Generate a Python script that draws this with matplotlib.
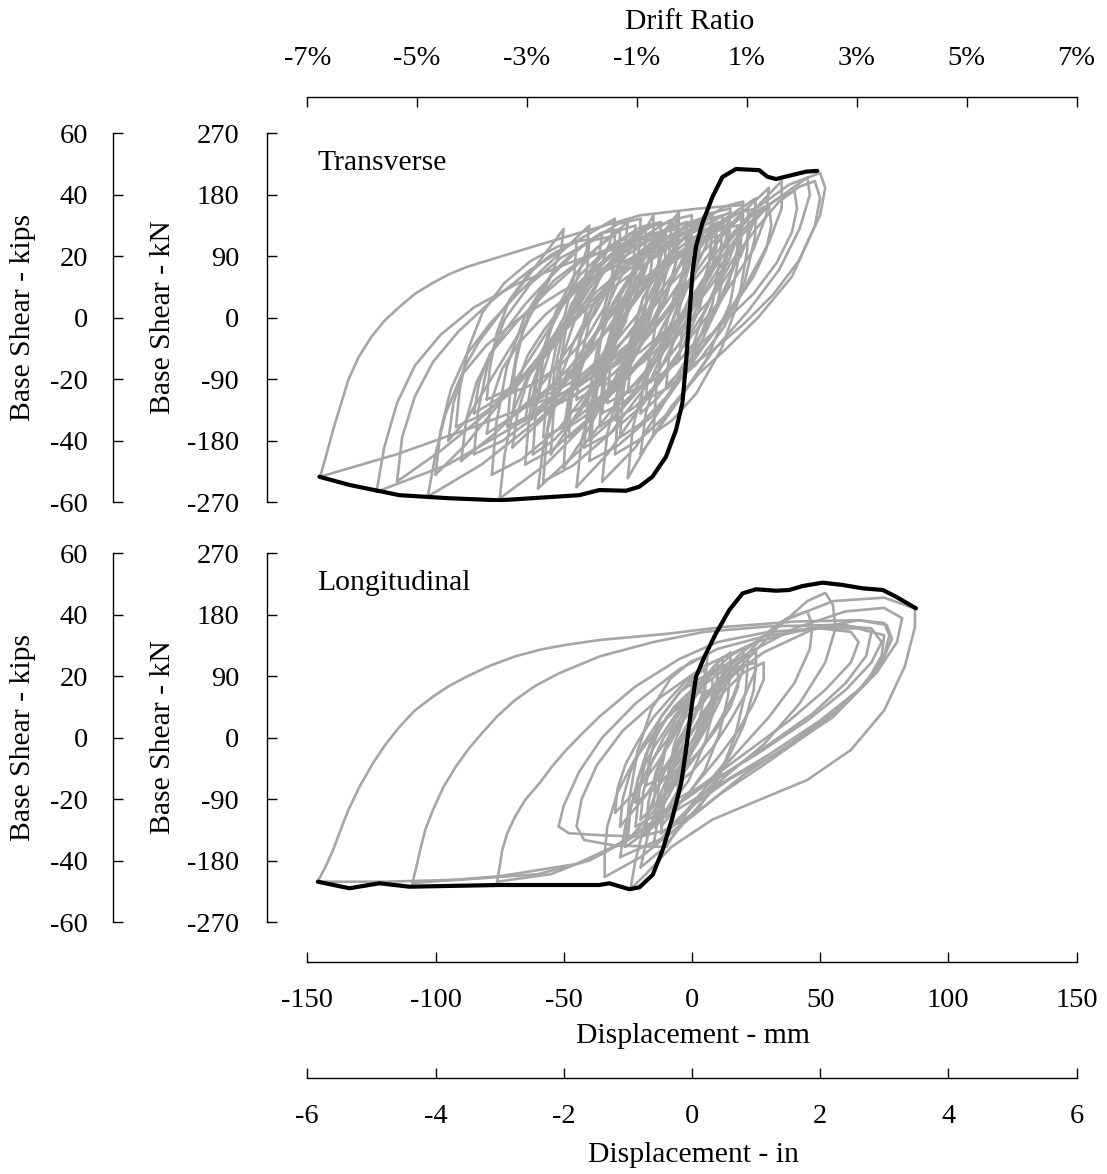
import matplotlib
matplotlib.use('Agg')
import matplotlib.pyplot as plt

plt.rcParams['font.family'] = ['Liberation Serif', 'DejaVu Serif']
plt.rcParams['axes.unicode_minus'] = False

# ---------------- axis data ----------------
kn_ticks = [-270, -180, -90, 0, 90, 180, 270]
kn_labels = ['-270', '-180', '-90', '0', '90', '180', '270']
kip_ticks = [-60, -40, -20, 0, 20, 40, 60]
kip_labels = ['-60', '-40', '-20', '0', '20', '40', '60']
mm_ticks = [-150, -100, -50, 0, 50, 100, 150]
mm_labels = ['-150', '-100', '-50', '0', '50', '100', '150']
in_ticks = [-6, -4, -2, 0, 2, 4, 6]
in_labels = ['-6', '-4', '-2', '0', '2', '4', '6']
drift_ticks = [-7, -5, -3, -1, 1, 3, 5, 7]
drift_labels = ['-7%', '-5%', '-3%', '-1%', '1%', '3%', '5%', '7%']

# ---------------- Transverse: backbone (black) ----------------
trans_env_x = [-145.3, -133.6, -114.1, -94.6, -75.1, -43.9, -36.1, -25.7, -20.5, -15.4, -10.1,
               -6.2, -3.7, -2.3, -1.0, 0.2, 1.6, 4.1, 8.0, 11.9, 17.2, 26.3, 29.4, 32.8, 39.2,
               44.5, 48.9]
trans_env_y = [-233, -245, -260, -264.5, -267.5, -260, -252.5, -253.5, -247.6, -233, -203.7,
               -164.5, -125, -66.4, 1, 65.4, 104, 138.6, 176.7, 206, 217.7, 216, 206.4, 203, 209,
               213.8, 215]

# ---------------- Transverse: hysteresis loops (grey) ----------------
trans_loop_x = [
    [-145, -142.5, -140, -137, -134, -130, -125, -120, -114, -108, -101, -95, -88, -75, -62, -44, -20, 3, 20, 19, 14, 2, -20, -50, -85, -115, -145],
    [-123, -120, -115, -108, -98, -85, -68, -48, -25, -5, 8, 6, 0, -12, -35, -65, -95, -123],
    [-103, -100, -96, -90, -80, -67, -50, -30, -12, 0, -2, -8, -20, -40, -60, -82, -103],
    [-75, -73, -70, -64, -55, -42, -27, -10, 5, 15, 13, 7, -5, -22, -40, -57, -75],
    [-60, -58, -54, -48, -38, -25, -10, 5, 17, 25, 24, 19, 8, -10, -28, -44, -60],
    [-45, -43, -39, -32, -22, -8, 8, 20, 30, 29, 24, 12, -5, -20, -33, -45],
    [-35, -33, -29, -22, -12, 2, 15, 26, 35, 35, 30, 20, 5, -10, -22, -35],
    [-25, -23, -18, -10, 0, 12, 25, 38, 50, 52, 50, 45, 39, 26, 13, 3, -8, -18, -25],
    [-20, -18, -13, -5, 5, 17, 30, 45, 46, 42, 34, 22, 8, -5, -20],
    [-80, -78, -74, -67, -57, -44, -30, -18, -10, -11, -15, -25, -40, -55, -68, -80],
    [-70, -68, -64, -58, -48, -35, -22, -12, -5, -6, -10, -20, -33, -48, -60, -70],
    [-65, -63, -59, -52, -42, -30, -18, -7, 0, -1, -5, -14, -27, -42, -55, -65],
    [-55, -54, -51, -46, -39, -31, -24, -18, -15, -15, -18, -24, -32, -40, -48, -55],
    [-50, -48, -44, -38, -28, -16, -4, 5, 10, 9, 5, -3, -15, -28, -40, -50],
    [-90, -88, -84, -78, -68, -56, -44, -33, -25, -26, -30, -38, -50, -63, -77, -90],
    [-40, -39, -36, -31, -24, -15, -6, 1, 5, 4, 1, -5, -13, -22, -31, -40],
    [-85, -83, -79, -73, -65, -55, -46, -39, -35, -36, -40, -47, -57, -67, -76, -85],
    [-30, -29, -26, -21, -14, -5, 4, 11, 15, 14, 11, 5, -4, -13, -22, -30],
    [-60, -58, -55, -50, -43, -35, -28, -23, -20, -21, -24, -30, -38, -47, -54, -60],
    [-100, -98, -94, -88, -79, -68, -57, -47, -40, -41, -45, -53, -64, -76, -88, -100],
    [-115, -113, -108, -101, -91, -78, -63, -46, -30, -32, -37, -47, -62, -80, -98, -115],
    [-45, -44, -41, -36, -29, -20, -10, -4, 0, -1, -4, -11, -20, -30, -38, -45],
    [-35, -34, -31, -26, -19, -10, 0, 6, 10, 9, 6, 0, -9, -19, -28, -35],
    [-20, -19, -16, -11, -4, 4, 12, 17, 20, 19, 16, 10, 2, -6, -14, -20],
    [-70, -68, -64, -58, -50, -40, -30, -21, -15, -16, -20, -28, -39, -50, -61, -70],
    [-50, -49, -46, -41, -34, -25, -16, -9, -5, -6, -9, -16, -25, -34, -43, -50],
    [-95, -93, -89, -83, -75, -66, -58, -53, -50, -51, -55, -62, -71, -80, -88, -95],
    [-10, -9, -6, -1, 6, 14, 22, 27, 30, 31, 29, 24, 16, 7, -2, -10],
    [-5, -4, -1, 4, 11, 19, 28, 35, 40, 41, 39, 33, 24, 13, 3, -5],
    [0, 1, 4, 9, 16, 25, 34, 42, 48, 50, 48, 42, 32, 20, 9, 0],
    [-58, -56.5, -53, -47, -38, -27, -15.5, -8, -9, -13, -22, -35.5, -48, -58],
    [-48, -46.6, -43.4, -37.9, -29.6, -19.5, -8.9, -2, -3, -6.6, -14.9, -27.3, -38.8, -48],
    [-42, -40.5, -37, -31, -22, -11, 0.5, 8, 7, 3, -6, -19.5, -32, -42],
    [-38, -37.2, -35.4, -32.3, -27.6, -21.9, -15.9, -12, -12.5, -14.6, -19.3, -26.3, -32.8, -38],
    [-52, -51, -48.6, -44.5, -38.4, -30.9, -23.1, -18, -18.5, -21.4, -27.5, -36.7, -45.2, -52],
    [-28, -26.8, -24, -19.2, -12, -3.2, 6, 12, 11.2, 8, 0.8, -10, -20, -28],
    [-33, -31.9, -29.4, -25.1, -18.6, -10.7, -2.4, 3, 2.6, -0.6, -7.1, -16.8, -25.8, -33],
    [-62, -60.8, -58, -53.2, -46, -37.2, -28, -22, -22.8, -26, -33.2, -44, -54, -62],
    [-25, -23.7, -20.7, -15.5, -7.8, 1.7, 11.6, 18, 17.6, 13.7, 5.6, -5.7, -16.4, -25],
    [-15, -13.9, -11.3, -6.9, -0.2, 7.9, 16.5, 22, 21.6, 18.3, 11.6, 1.7, -7.6, -15],
    [-72, -70.7, -67.6, -62.3, -54.4, -44.7, -34.6, -28, -28.4, -32.4, -40.3, -52.2, -63.2, -72],
    [-44, -42.9, -40.2, -35.6, -28.8, -20.4, -11.7, -6, -6.4, -9.8, -16.6, -26.9, -36.4, -44],
    [-18, -16.7, -13.7, -8.5, -0.8, 8.7, 18.6, 25, 24.6, 20.7, 12.6, 1.4, -9.4, -18],
    [-36, -35, -32.6, -28.5, -22.4, -14.9, -7.1, -2, -2.3, -5.4, -11.5, -20.7, -29.2, -36],
    [-55, -53.7, -50.5, -45.1, -37, -27.1, -16.8, -10, -10.5, -14.5, -22.6, -34.8, -46, -55],
    [-85, -83.35, -79.5, -72.9, -63, -50.9, -38.25, -30, -31.1, -35.5, -45.4, -60.25, -74, -85],
    [-78, -76.3, -72.2, -65.2, -54.8, -42, -28.7, -20, -21.2, -25.8, -36.2, -51.9, -66.4, -78],
    [-65, -63.4, -59.7, -53.3, -43.8, -32.1, -19.95, -12, -13.1, -17.3, -26.8, -41.2, -54.4, -65],
    [-92, -90.6, -87.3, -81.7, -73.2, -62.9, -52, -45, -45.9, -49.7, -58.2, -70.9, -82.6, -92],
    [-58, -56.3, -52.2, -45.2, -34.8, -22, -8.7, 0, -1.2, -5.8, -16.2, -31.9, -46.4, -58],
    [-40, -38.35, -34.5, -27.9, -18, -5.9, 6.75, 15, 13.9, 9.5, -0.4, -15.25, -29, -40],
    [-30, -28.5, -25, -19, -10, 1, 12.5, 20, 19, 15, 6, -7.5, -20, -30],
    [-70, -68.8, -66, -61.2, -54, -45.2, -36, -30, -30.8, -34, -41.2, -52, -62, -70],
    [-48, -47, -44.7, -40.7, -34.8, -27.5, -19.95, -15, -15.7, -18.3, -24.2, -33.2, -41.4, -48],
    [-62, -60.3, -56.3, -49.5, -39.2, -26.7, -13.55, -5, -6.1, -10.7, -21, -36.35, -50.6, -62],
    [-35, -33.7, -30.7, -25.5, -17.8, -8.3, 1.55, 8, 7.1, 3.7, -4, -15.65, -26.4, -35],
    [-80, -78.8, -76, -71.2, -64, -55.2, -46, -40, -40.8, -44, -51.2, -62, -72, -80],
]
trans_loop_y = [
    [-233, -200, -165, -128, -91, -58, -28, -5, 16, 35, 51, 63, 74, 89, 104, 124, 150, 160, 165, 130, 80, 20, -50, -110, -160, -200, -233],
    [-255, -190, -125, -70, -25, 15, 50, 80, 110, 135, 150, 110, 60, 0, -70, -150, -215, -255],
    [-262, -200, -140, -85, -40, 0, 40, 75, 110, 140, 100, 50, -10, -80, -150, -215, -262],
    [-265, -200, -140, -85, -40, 10, 55, 100, 135, 155, 110, 60, 0, -70, -150, -215, -265],
    [-250, -190, -130, -75, -25, 30, 80, 125, 155, 175, 140, 90, 30, -45, -120, -195, -250],
    [-248, -180, -120, -60, -10, 50, 110, 155, 190, 150, 100, 30, -50, -130, -200, -248],
    [-240, -170, -110, -50, 0, 60, 120, 165, 200, 160, 110, 40, -40, -120, -190, -240],
    [-235, -160, -90, -30, 30, 100, 160, 195, 212, 190, 150, 110, 60, 1, -47, -81, -130, -190, -235],
    [-200, -140, -80, -20, 40, 110, 165, 205, 180, 130, 70, 10, -50, -120, -200],
    [-170, -120, -75, -35, 5, 45, 80, 110, 130, 100, 60, 10, -45, -100, -140, -170],
    [-190, -140, -90, -45, 0, 45, 85, 120, 145, 110, 65, 10, -50, -110, -155, -190],
    [-150, -105, -65, -25, 15, 55, 90, 110, 120, 90, 50, 0, -50, -95, -130, -150],
    [-200, -140, -85, -35, 15, 60, 100, 130, 150, 115, 70, 15, -45, -110, -160, -200],
    [-165, -115, -70, -25, 20, 65, 105, 128, 140, 105, 60, 10, -45, -100, -140, -165],
    [-210, -150, -95, -50, -5, 40, 80, 115, 140, 105, 60, 5, -55, -120, -170, -210],
    [-180, -120, -70, -25, 20, 65, 105, 135, 150, 115, 70, 15, -45, -105, -150, -180],
    [-140, -95, -55, -20, 20, 60, 95, 115, 125, 95, 55, 5, -45, -90, -120, -140],
    [-150, -100, -55, -15, 30, 75, 110, 130, 140, 105, 60, 10, -45, -95, -130, -150],
    [-120, -80, -45, -10, 30, 65, 95, 112, 120, 90, 50, 0, -45, -85, -108, -120],
    [-230, -165, -105, -55, -10, 35, 75, 110, 135, 100, 55, 0, -65, -130, -185, -230],
    [-240, -175, -115, -65, -20, 25, 70, 110, 145, 110, 60, 0, -70, -140, -195, -240],
    [-120, -85, -50, -15, 20, 55, 80, 95, 100, 75, 40, 0, -40, -80, -105, -120],
    [-100, -65, -30, 5, 40, 75, 100, 115, 120, 90, 55, 15, -30, -65, -88, -100],
    [-140, -95, -50, -10, 35, 80, 120, 140, 150, 115, 70, 20, -35, -85, -120, -140],
    [-140, -95, -55, -20, 20, 60, 95, 115, 125, 95, 55, 5, -45, -90, -120, -140],
    [-220, -160, -100, -50, 0, 50, 100, 135, 155, 120, 75, 20, -50, -120, -180, -220],
    [-180, -125, -75, -35, 5, 50, 90, 115, 130, 100, 60, 10, -45, -100, -150, -180],
    [-100, -60, -20, 20, 65, 110, 145, 160, 165, 135, 100, 60, 15, -30, -70, -100],
    [-60, -25, 10, 45, 85, 125, 160, 178, 185, 160, 125, 80, 35, -5, -40, -60],
    [-70, -35, 0, 40, 85, 130, 170, 192, 200, 175, 135, 85, 35, -10, -45, -70],
    [-175, -112, -43, 20, 71, 108, 134, 140, 83, 14, -55, -118, -156, -175],
    [-140, -87, -29, 24, 67, 98.5, 119.7, 125, 77, 19, -39, -92, -124, -140],
    [-190, -122, -48, 20, 74, 114, 141, 148, 87, 13, -62, -129, -170, -190],
    [-130, -81, -27, 22, 61, 90.5, 110, 115, 78, 22, -37, -86, -115, -130],
    [-105, -58, -7, 39.5, 77, 105, 123, 128, 93, 39.5, -16, -63, -91, -105],
    [-175, -110, -38.5, 26.5, 78.5, 117.5, 143.5, 150, 91.5, 20, -51.5, -116.5, -155.5, -175],
    [-125, -74, -18, 33, 74, 104.5, 125, 130, 92, 33, -28, -79, -110, -125],
    [-200, -133, -59, 7.7, 61, 101.5, 128, 135, 75, 1.5, -73, -140, -180, -200],
    [-110, -61, -7, 42, 81, 110.5, 130, 135, 98, 42, -17, -66, -95, -110],
    [-170, -104, -32, 33, 86, 125, 151, 158, 99, 27, -45, -111, -150, -170],
    [-160, -102, -38, 20, 66, 101, 124, 130, 86.5, 20, -50, -108, -143, -160],
    [-95, -54, -9, 32, 65, 89.5, 106, 110, 79, 32, -17, -58, -83, -95],
    [-120, -64, -2.4, 53.6, 98, 132, 154, 160, 118, 54, -13.6, -69.6, -103, -120],
    [-160, -100, -34, 26, 74, 110, 134, 140, 94, 20, -46, -106, -142, -160],
    [-130, -80, -25, 25, 65, 95, 115, 120, 82.5, 25, -35, -85, -115, -130],
    [-200, -136, -65.6, -1.6, 49.6, 88, 113.6, 120, 62.4, -8, -78.4, -142.4, -180.8, -200],
    [-230, -155, -72.5, 2.5, 62.5, 107.5, 137.5, 145, 77.5, -5, -87.5, -162.5, -207.5, -230],
    [-215, -144, -65.9, 5.1, 61.9, 104.5, 132.9, 140, 76.1, -2, -80.1, -151.1, -193.7, -215],
    [-160, -106, -46.6, 7.4, 50.6, 83, 104.6, 110, 61.4, 2, -57.4, -111.4, -143.8, -160],
    [-240, -162, -76.2, 1.8, 64.2, 111, 142.2, 150, 79.8, -6, -91.8, -169.8, -216.6, -240],
    [-210, -136, -54.6, 19.4, 78.6, 123, 152.6, 160, 93.4, 12, -69.4, -143.4, -187.8, -210],
    [-200, -126, -44.6, 29.4, 88.6, 133, 162.6, 170, 103.4, 22, -59.4, -133.4, -177.8, -200],
    [-110, -68, -21.8, 20.2, 53.8, 79, 95.8, 100, 62.2, 16, -30.2, -72.2, -97.4, -110],
    [-175, -113, -44.8, 17.2, 66.8, 104, 128.8, 135, 79.2, 11, -57.2, -119.2, -156.4, -175],
    [-140, -86, -26.6, 27.4, 70.6, 103, 124.6, 130, 81.4, 22, -37.4, -91.4, -123.8, -140],
    [-140, -84, -22.4, 33.6, 78.4, 112, 134.4, 140, 89.6, 28, -33.6, -89.6, -123.2, -140],
    [-120, -73, -21.3, 25.7, 63.3, 91.5, 110.3, 115, 72.7, 21, -30.7, -77.7, -105.9, -120],
]

# ---------------- Longitudinal: backbone (black) ----------------
long_env_x = [-145.9, -133.6, -121.9, -110.2, -75.1, -36.1, -32.2, -24.4, -20.5, -15.3, -11.4,
              -7.5, -4.2, -2.3, -0.3, 1.6, 4.9, 9.4, 14.6, 19.8, 25.0, 32.8, 38.0, 43.2, 51.0,
              58.8, 66.6, 74.4, 79.6, 87.4]
long_env_y = [-211, -220.6, -213.3, -218.3, -215.8, -215.8, -213.3, -222, -219.2, -201, -164.5,
              -115.8, -66.9, -18.1, 40.5, 89.3, 118.6, 152.8, 187, 211.4, 217.3, 215.2, 216.3,
              222.1, 227, 223.6, 218.7, 216.3, 206.4, 189.4]

# ---------------- Longitudinal: hysteresis loops (grey) ----------------
long_loop_x = [
    [-146, -143, -140, -137, -134, -129.5, -124.5, -119.5, -114, -108, -101, -95, -88, -79, -69, -59, -49, -36, -10, 12, 40, 65, 76, 78, 74, 65, 50, 30, 10, -10, -25, -40, -60, -90, -120, -146],
    [-109, -107.5, -106, -104, -101, -97, -92, -87, -82, -76, -69, -61, -52, -36, -15, 5, 30, 55, 70, 74, 70, 60, 45, 25, 5, -12, -28, -45, -75, -109],
    [-76, -75, -74, -72, -69, -65, -59.5, -54.5, -49, -42.5, -36, -22, -5, 10, 30, 50, 62, 65, 62, 52, 38, 20, 2, -15, -35, -55, -76],
    [-20, -35, -48, -52, -50, -44, -35, -22, -5, 10, 30, 50, 65, 75, 74, 68, 55, 35, 15, 0, -10, -20],
    [-10, -30, -42, -45, -43, -37, -27, -12, 5, 25, 45, 60, 70, 68, 60, 47, 30, 10, -2, -10],
    [-34, -34, -33, -29, -22, -12, 2, 20, 40, 60, 75, 82, 80, 72, 60, 45, 28, 12, -5, -20, -34],
    [-24, -22, -18, -12, -4, 5, 18, 35, 55, 75, 87, 87, 83, 75, 62, 45, 27, 8, -8, -18, -24],
    [-20, -17, -12, -5, 5, 18, 33, 45, 52, 55, 56, 52, 42, 28, 12, -2, -12, -20],
    [-28, -26, -22, -15, -5, 10, 28, 48, 65, 75, 77, 75, 68, 55, 38, 20, 5, -10, -28],
    [-15, -13, -9, -3, 5, 15, 27, 37, 45, 47, 46, 40, 30, 18, 6, -5, -15],
    [-20, -19, -16, -11, -4, 3, 10, 10, 7, 2, -5, -12, -20],
    [-25, -24, -21, -15, -7, 2, 10, 15, 15, 11, 5, -3, -12, -25],
    [-15, -14, -11, -6, 1, 8, 15, 20, 20, 16, 10, 3, -5, -15],
    [-28, -27, -24, -19, -12, -5, 1, 5, 5, 2, -3, -10, -18, -28],
    [-10, -9, -6, -1, 6, 13, 20, 25, 25, 21, 15, 8, 0, -10],
    [-22, -21, -18, -13, -7, 0, 5, 8, 8, 5, 0, -6, -13, -22],
    [-18, -17, -14, -9, -3, 4, 9, 12, 12, 9, 4, -2, -9, -18],
    [-30, -29, -26, -21, -15, -8, -3, 0, 0, -3, -8, -14, -21, -30],
    [-12, -11, -8, -3, 4, 12, 20, 28, 28, 24, 18, 10, 0, -12],
    [-8, -7, -4, 0, 6, 12, 16, 18, 18, 15, 10, 4, -2, -8],
    [-22, -20.4, -17.2, -11.8, -4.4, 3.6, 10, 9, 5.2, -1.2, -9.2, -22],
    [-14, -12.6, -9.7, -4.7, 2, 9.2, 15, 14.1, 10.7, 4.9, -2.4, -14],
    [-26, -24.4, -21.2, -15.8, -8.4, -0.4, 6, 5, 1.2, -5.2, -13.2, -26],
    [-6, -4.5, -1.4, 3.9, 11, 18.8, 25, 24.1, 20.4, 14.2, 6.4, -6],
    [-18, -16.7, -14.1, -9.7, -3.7, 2.8, 8, 7.2, 4.1, -1.1, -7.6, -18],
    [-12, -10.3, -6.9, -1.1, 6.7, 15.2, 22, 21, 16.9, 10.1, 1.6, -12],
]
long_loop_y = [
    [-211, -190, -165, -135, -106, -71, -38, -10, 16, 40, 60, 75, 89, 105, 119, 129, 136, 143, 152, 162, 170, 172, 165, 145, 110, 70, 25, -25, -70, -115, -150, -180, -200, -208, -211, -211],
    [-213, -190, -165, -135, -106, -73, -42, -16, 6, 31, 55, 76, 94, 119, 140, 155, 163, 165, 160, 140, 110, 70, 25, -25, -70, -115, -155, -185, -203, -213],
    [-211, -190, -165, -140, -116, -91, -67, -42, -18, 7, 31, 75, 115, 140, 155, 160, 155, 140, 110, 70, 25, -25, -75, -125, -170, -200, -211],
    [-145, -143, -140, -130, -100, -50, 0, 50, 100, 130, 150, 160, 160, 150, 120, 80, 30, -20, -60, -100, -135, -145],
    [-160, -158, -150, -130, -90, -40, 10, 60, 105, 140, 160, 165, 155, 120, 80, 35, -10, -60, -110, -160],
    [-204, -170, -130, -80, -30, 20, 70, 120, 160, 185, 190, 175, 140, 95, 50, 5, -40, -80, -130, -175, -204],
    [-222, -180, -120, -60, 0, 60, 120, 170, 200, 205, 189, 162, 104, 40, -18, -62, -90, -120, -160, -200, -222],
    [-190, -140, -80, -20, 40, 100, 160, 200, 212, 195, 160, 110, 50, -10, -60, -120, -165, -190],
    [-175, -130, -80, -30, 20, 75, 125, 160, 172, 168, 150, 120, 80, 35, -10, -55, -100, -145, -175],
    [-160, -110, -60, -10, 40, 95, 145, 175, 185, 165, 130, 80, 30, -20, -70, -120, -160],
    [-120, -80, -40, 0, 40, 80, 110, 80, 40, 0, -45, -90, -120],
    [-150, -105, -60, -15, 30, 75, 110, 125, 95, 55, 10, -40, -95, -150],
    [-100, -60, -20, 20, 60, 95, 120, 130, 100, 60, 20, -20, -60, -100],
    [-130, -90, -50, -10, 30, 65, 90, 100, 75, 40, 0, -40, -85, -130],
    [-80, -45, -10, 25, 60, 95, 115, 125, 100, 65, 25, -15, -50, -80],
    [-95, -60, -25, 10, 45, 70, 82, 85, 60, 30, -5, -40, -70, -95],
    [-140, -95, -50, -5, 40, 80, 105, 118, 90, 50, 10, -35, -85, -140],
    [-110, -75, -40, -5, 30, 60, 80, 90, 65, 30, -5, -40, -75, -110],
    [-130, -90, -50, -10, 30, 65, 95, 110, 85, 50, 10, -30, -75, -130],
    [-60, -30, 0, 30, 60, 85, 93, 95, 75, 45, 15, -15, -40, -60],
    [-130, -74, -17.5, 32, 68, 88, 95, 50, -6, -62.5, -103, -130],
    [-115, -60, -5, 43, 78.6, 98.4, 105, 61, 6, -49, -88.6, -115],
    [-160, -90, -20, 41.6, 86.4, 111.6, 120, 64, -6, -76, -126, -160],
    [-90, -40, 10, 54, 86, 104, 110, 70, 20, -30, -66, -90],
    [-70, -35, 0, 31, 53, 66, 70, 42, 7, -28, -53, -70],
    [-140, -75, -10, 47, 89, 112, 120, 68, 3, -62, -109, -140],
]

panel_titles = ['Transverse', 'Longitudinal']

# ---------------- figure layout ----------------
W, H = 1107, 1174
fig = plt.figure(figsize=(W / 100, H / 100), dpi=100)
FS = 20.5      # tick labels
FT = 21.3      # titles / axis names
GREY = '#a6a6a6'


def rect(l, t, r, b):
    return [l / W, 1 - b / H, (r - l) / W, (b - t) / H]


r1 = rect(307.3, 133.3, 1076.5, 502)
r2 = rect(307.3, 553.3, 1076.5, 922)


def style_left(ax, pos, ticks, labels, lim, pad):
    for s in ['top', 'right', 'bottom']:
        ax.spines[s].set_visible(False)
    ax.spines['left'].set_position(('axes', pos))
    ax.spines['left'].set_linewidth(1.0)
    ax.set_ylim(*lim)
    ax.set_yticks(ticks)
    ax.set_yticklabels(labels)
    ax.tick_params(axis='y', direction='in', length=7, width=1.0, pad=pad, labelsize=FS)
    ax.patch.set_visible(False)


axes = []
for i, (r, lx, ly, gx, gy) in enumerate([
        (r1, trans_env_x, trans_env_y, trans_loop_x, trans_loop_y),
        (r2, long_env_x, long_env_y, long_loop_x, long_loop_y)]):
    axk = fig.add_axes(r, label='kips%d' % i)
    style_left(axk, -0.2526, kip_ticks, kip_labels, (-60, 60), 18)
    axk.set_xticks([])
    ax = fig.add_axes(r, label='kn%d' % i)
    style_left(ax, -0.0524, kn_ticks, kn_labels, (-270, 270), 20)
    ax.set_xlim(-150, 150)
    for xs, ys in zip(gx, gy):
        ax.plot(xs, ys, color=GREY, lw=1.9, solid_joinstyle='round', solid_capstyle='round', zorder=2)
    ax.plot(lx, ly, color='black', lw=3.0, solid_joinstyle='round', solid_capstyle='round', zorder=3)
    ax.text(-146, 227, panel_titles[i], fontsize=FT, ha='left', va='center')
    axes.append(ax)

ax1, ax2 = axes
ax1.set_xticks([])

# bottom mm axis
ax2.spines['bottom'].set_visible(True)
ax2.spines['bottom'].set_position(('axes', -0.1085))
ax2.spines['bottom'].set_linewidth(1.0)
ax2.set_xticks(mm_ticks)
ax2.set_xticklabels(mm_labels)
ax2.tick_params(axis='x', direction='in', length=7, width=1.0, pad=19, labelsize=FS)

# bottom inch axis
axi = fig.add_axes(r2, label='inch')
for s in ['top', 'right', 'left']:
    axi.spines[s].set_visible(False)
axi.spines['bottom'].set_position(('axes', -0.4231))
axi.spines['bottom'].set_linewidth(1.0)
axi.patch.set_visible(False)
axi.set_xlim(-6, 6)
axi.set_xticks(in_ticks)
axi.set_xticklabels(in_labels)
axi.set_yticks([])
axi.tick_params(axis='x', direction='in', length=7, width=1.0, pad=19, labelsize=FS)

# top drift axis
axd = fig.add_axes(r1, label='drift')
for s in ['bottom', 'right', 'left']:
    axd.spines[s].set_visible(False)
axd.spines['top'].set_position(('axes', 1.0985))
axd.spines['top'].set_linewidth(1.0)
axd.patch.set_visible(False)
axd.set_xlim(-7, 7)
axd.xaxis.set_ticks_position('top')
axd.set_xticks(drift_ticks)
axd.set_xticklabels(drift_labels)
axd.set_yticks([])
axd.tick_params(axis='x', direction='in', length=7, width=1.0, pad=19, labelsize=FS,
                top=True, bottom=False, labeltop=True, labelbottom=False)

# axis titles
fig.text(690 / W, 1 - 22 / H, 'Drift Ratio', fontsize=FT, ha='center', va='center')
fig.text(693 / W, 1 - 1036 / H, 'Displacement - mm', fontsize=FT, ha='center', va='center')
fig.text(693 / W, 1 - 1155 / H, 'Displacement - in', fontsize=FT, ha='center', va='center')
for yc in (317.6, 737.6):
    fig.text(23 / W, 1 - yc / H, 'Base Shear - kips', fontsize=FT, rotation=90, ha='center', va='center')
    fig.text(162.5 / W, 1 - yc / H, 'Base Shear - kN', fontsize=FT, rotation=90, ha='center', va='center')

fig.savefig('out.png', dpi=100)
